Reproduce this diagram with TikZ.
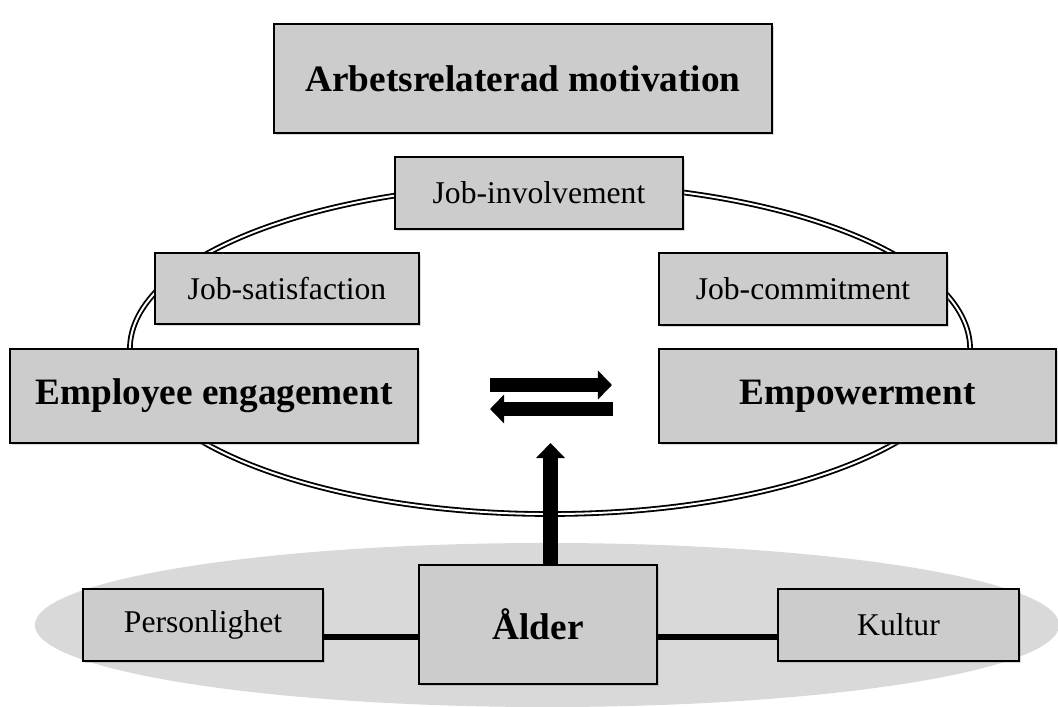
\documentclass[tikz,border=0pt]{standalone}
\usepackage{fontspec}
\setmainfont{Liberation Serif}
\usetikzlibrary{arrows.meta}
\usetikzlibrary{shadows}

\begin{document}
\begin{tikzpicture}[x=0.025cm, y=0.025cm,
        box/.style={draw=black, line width=1pt, fill=black!20, inner sep=0pt, outer sep=0pt,
            drop shadow={opacity=0.3, shadow xshift=1.5pt, shadow yshift=-1.5pt}},
        small/.style={box, font=\fontsize{22.5}{26}\selectfont},
        big/.style={box, font=\fontsize{26.5}{30}\selectfont\bfseries},
        ring/.style={line width=1.3pt, double=white, double distance=1.4pt},
        link/.style={line width=3.8pt},
        flow/.style={line width=10pt, -{Triangle[width=20pt, length=10pt]}},
        flowup/.style={line width=10.7pt, -{Triangle[width=20pt, length=10.7pt]}}
    ]

    \clip (0,0) rectangle (1058,706);

    % background areas
    \fill[black!15] (547,81) ellipse [x radius=12.8cm, y radius=2.05cm];
    \draw[ring] (550,357) ellipse [x radius=10.5cm, y radius=4.125cm];

    % boxes
    \node[big, minimum width=12.45cm, minimum height=2.725cm] (motiv) at (523,627.5) {Arbetsrelaterad motivation};
    \node[small, minimum width=7.2cm, minimum height=1.8cm] (inv) at (539,513) {Job-involvement};
    \node[small, minimum width=6.6cm, minimum height=1.775cm] (sat) at (287,417.5) {Job-satisfaction};
    \node[small, minimum width=7.2cm, minimum height=1.8cm] (com) at (803,417) {Job-commitment};
    \node[big, minimum width=10.2cm, minimum height=2.35cm] (eng) at (214,310) {Employee engagement};
    \node[big, minimum width=9.925cm, minimum height=2.35cm] (emp) at (857.5,310) {Empowerment};
    \node[big, minimum width=5.95cm, minimum height=2.975cm] (alder) at (538,81.5) {Ålder};
    \node[small, minimum width=6cm, minimum height=1.8cm] (pers) at (203,81) {Personlighet};
    \node[small, minimum width=6.025cm, minimum height=1.8cm] (kult) at (898.5,81) {Kultur};

    % connectors
    \coordinate (lvl) at (0,69);
    \draw[link] (pers.east |- lvl) -- (alder.west |- lvl);
    \draw[link] (alder.east |- lvl) -- (kult.west |- lvl);

    \coordinate (rs) at (490,321);
    \coordinate (rt) at (612,321);
    \coordinate (ls) at (613,297);
    \coordinate (lt) at (490,297);
    \draw[flow] (rs) -- (rt);
    \draw[flow] (ls) -- (lt);

    \coordinate (up) at (550.5,263);
    \draw[flowup] (alder.north -| up) -- (up);
\end{tikzpicture}
\end{document}
